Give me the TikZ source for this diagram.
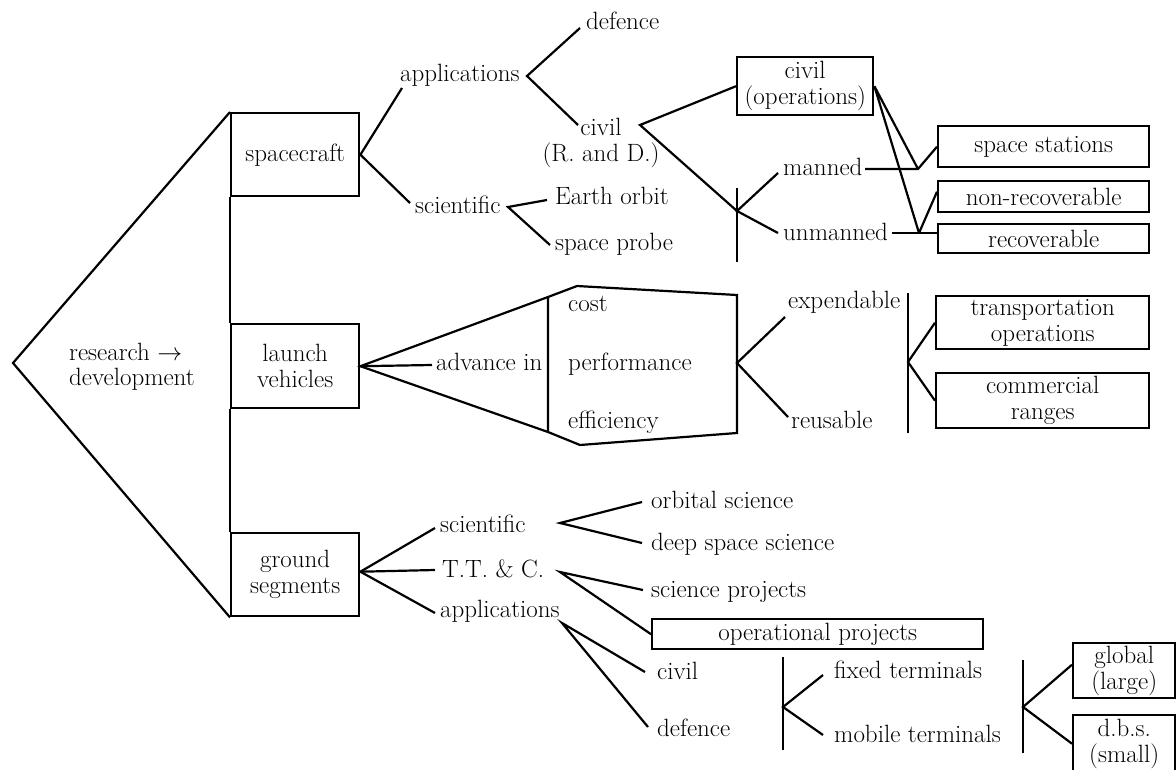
\documentclass[tikz,border=0pt]{standalone}
\usetikzlibrary{calc}
\begin{document}
\begin{tikzpicture}[x=1pt,y=-1pt,
  every node/.style={font=\fontsize{25}{26}\selectfont},
  txt/.style={inner sep=0pt, anchor=base west},
  mtxt/.style={inner sep=0pt, align=center},
  box/.style={draw, line width=2.4pt, inner sep=1pt, align=center, anchor=north west},
  ln/.style={line width=2.2pt}]
\useasboundingbox (0,0) rectangle (1176,769);
\clip (0,0) rectangle (1176,769);

% ---------- boxes ----------
\node[box, minimum width=128pt, minimum height=83pt] (sc) at (230,112) {spacecraft};
\node[box, minimum width=128pt, minimum height=84pt] (lv) at (230,323) {launch\\vehicles};
\node[box, minimum width=128pt, minimum height=83pt] (gs) at (230,532) {ground\\segments};
\node[box, minimum width=136pt, minimum height=58pt] (cop) at (736,56) {civil\\(operations)};
\node[box, minimum width=211pt, minimum height=41pt] (ss) at (937,125) {space stations};
\node[box, minimum width=211pt, minimum height=31pt] (nr) at (937,180) {non-recoverable};
\node[box, minimum width=211pt, minimum height=29pt] (rec) at (937,223) {recoverable};
\node[box, minimum width=213pt, minimum height=53pt] (tro) at (935,295) {transportation\\operations};
\node[box, minimum width=213pt, minimum height=55pt] (cr) at (935,372) {commercial\\ranges};
\node[box, minimum width=331pt, minimum height=30pt] (op) at (651,618) {operational projects};
\node[box, minimum width=102pt, minimum height=55pt] (gl) at (1072,642) {global\\(large)};
\node[box, minimum width=102pt, minimum height=57pt] (dbs) at (1072,714) {d.b.s.\\(small)};

% ---------- texts ----------
\node[txt] (rd1) at (69,360) {research $\rightarrow$};
\node[txt] (rd2) at (69,385) {development};
\node[txt] (app1) at (400,81) {applications};
\node[txt] (def1) at (586,29) {defence};
\node[mtxt] (civ1) at (601,143) {civil\\(R. and D.)};
\node[txt] (sci1) at (415,213) {scientific};
\node[txt] (eo) at (555,204) {Earth orbit};
\node[txt] (sp) at (555,250) {space probe};
\node[txt] (man) at (783,175) {manned};
\node[txt] (unm) at (783,240) {unmanned};
\node[txt] (adv) at (436,370) {advance in};
\node[txt] (cost) at (568,311) {cost};
\node[txt] (perf) at (568,370) {performance};
\node[txt] (eff) at (568,428) {efficiency};
\node[txt] (exp) at (788,308) {expendable};
\node[txt] (reu) at (791,428) {reusable};
\node[txt] (sci2) at (440,532) {scientific};
\node[txt] (ttc) at (442,577) {T.T. \& C.};
\node[txt] (app2) at (440,617) {applications};
\node[txt] (os) at (651,508) {orbital science};
\node[txt] (dss) at (651,550) {deep space science};
\node[txt] (spj) at (651,597) {science projects};
\node[txt] (civ2) at (657,679) {civil};
\node[txt] (def2) at (657,736) {defence};
\node[txt] (ft) at (834,678) {fixed terminals};
\node[txt] (mt) at (834,742) {mobile terminals};

% ---------- coordinates ----------
\coordinate (rdL) at (13,363);
\coordinate (a1i) at (402,88);
\coordinate (s1i) at (410,203);
\coordinate (a1o) at (527,76);
\coordinate (d1i) at (580,28);
\coordinate (c1i) at (578,125);
\coordinate (c1o) at (640,125);
\coordinate (J1) at (737,211);
\coordinate (V1t) at (737,188);
\coordinate (V1b) at (737,262);
\coordinate (mi) at (778,173);
\coordinate (ui) at (778,233);
\coordinate (mo) at (865,169);
\coordinate (J2) at (918,169);
\coordinate (uo) at (892,233);
\coordinate (J3) at (919,233);
\coordinate (s1o) at (508,207);
\coordinate (eoi) at (547,200);
\coordinate (spi) at (550,245);
\coordinate (advi) at (432,365);
\coordinate (hTL) at (548,297);
\coordinate (hT) at (577,286);
\coordinate (hTR) at (737,295);
\coordinate (hBR) at (737,433);
\coordinate (hB) at (580,445);
\coordinate (hBL) at (548,432);
\coordinate (hR) at (737,363);
\coordinate (ei) at (785,317);
\coordinate (ri) at (788,417);
\coordinate (V2t) at (908,293);
\coordinate (V2b) at (908,433);
\coordinate (J4) at (908,362);
\coordinate (s2i) at (435,528);
\coordinate (ti) at (435,570);
\coordinate (a2i) at (435,613);
\coordinate (s2o) at (560,523);
\coordinate (osi) at (642,502);
\coordinate (dsi) at (642,543);
\coordinate (to) at (560,572);
\coordinate (spji) at (643,590);
\coordinate (a2o) at (562,623);
\coordinate (c2i) at (645,672);
\coordinate (d2i) at (648,727);
\coordinate (V3t) at (783,657);
\coordinate (V3b) at (783,750);
\coordinate (J5) at (783,707);
\coordinate (fti) at (823,675);
\coordinate (mti) at (823,735);
\coordinate (V4t) at (1023,660);
\coordinate (V4b) at (1023,753);
\coordinate (J6) at (1023,707);

% ---------- connectors ----------
\draw[ln] (sc.north west) -- (rdL) -- (gs.south west);
\draw[ln] (sc.south west) -- (lv.north west) (lv.south west) -- (gs.north west);

% spacecraft
\draw[ln] (a1i) -- (sc.east) -- (s1i);
\draw[ln] (d1i) -- (a1o) -- (c1i);
\draw[ln] (cop.west) -- (c1o) -- (J1);
\draw[ln] (V1t) -- (V1b);
\draw[ln] (mi) -- (J1) -- (ui);
\draw[ln] (mo) -- (J2) -- (ss.west);
\draw[ln] (J2) -- (cop.east) -- (J3);
\draw[ln] (uo) -- (J3) -- (rec.west |- J3);
\draw[ln] (J3) -- ([yshift=5pt]nr.west);
\draw[ln] (eoi) -- (s1o) -- (spi);

% launch vehicles
\draw[ln] (hTL) -- (lv.east) -- (hBL);
\draw[ln] (lv.east) -- (advi);
\draw[ln] (hTL) -- (hT) -- (hTR) -- (hBR) -- (hB) -- (hBL) -- cycle;
\draw[ln] (ei) -- (hR) -- (ri);
\draw[ln] (V2t) -- (V2b);
\draw[ln] (tro.west) -- (J4) -- (cr.west);

% ground segments
\draw[ln] (s2i) -- ([yshift=3pt]gs.east) -- (a2i);
\draw[ln] ([yshift=3pt]gs.east) -- (ti);
\draw[ln] (osi) -- (s2o) -- (dsi);
\draw[ln] (spji) -- (to) -- (op.west);
\draw[ln] (c2i) -- (a2o) -- (d2i);
\draw[ln] (V3t) -- (V3b);
\draw[ln] (fti) -- (J5) -- (mti);
\draw[ln] (V4t) -- (V4b);
\draw[ln] ([yshift=6pt]gl.west) -- (J6) -- (dbs.west);
\end{tikzpicture}
\end{document}
